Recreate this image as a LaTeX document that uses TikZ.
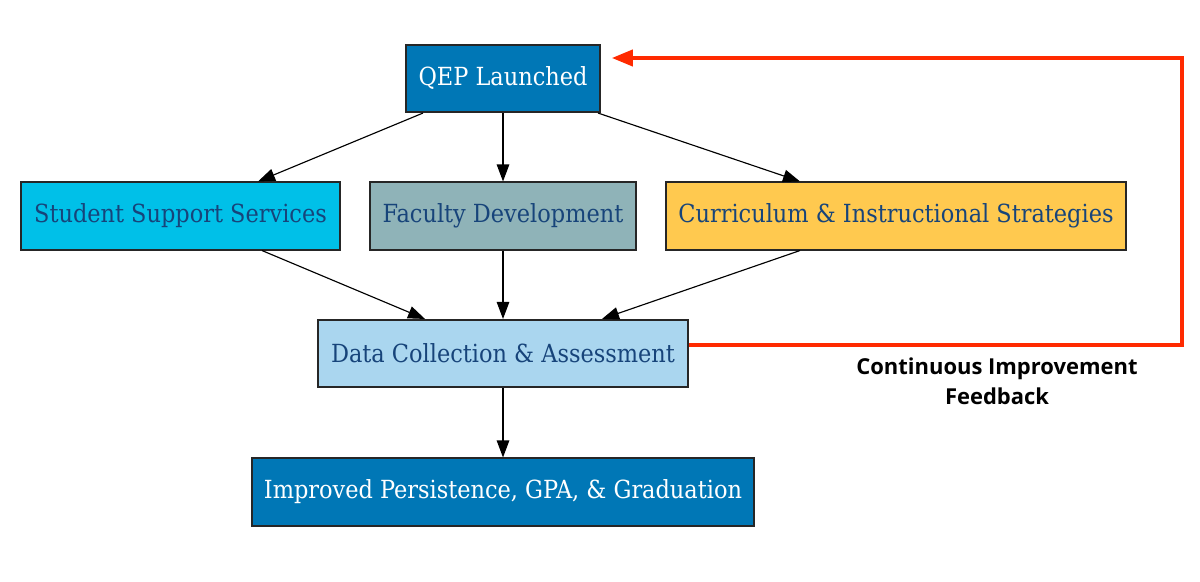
\documentclass[tikz,border=0pt]{standalone}
\usepackage{fontspec}
\setmainfont{DejaVu Serif Condensed}
\newfontfamily\lblfont{Open Sans}
\usetikzlibrary{arrows.meta,positioning}
\definecolor{qblue}{HTML}{0077B6}
\definecolor{scyan}{HTML}{00C0E8}
\definecolor{fteal}{HTML}{8FB3B8}
\definecolor{cgold}{HTML}{FFC94F}
\definecolor{dlight}{HTML}{AAD6EF}
\definecolor{tnavy}{HTML}{17447A}
\definecolor{fbred}{HTML}{FF2A00}
\tikzset{
  bx/.style={rectangle,draw=black!85,line width=0.9pt,minimum height=1.35cm,inner sep=0pt,font=\fontsize{14.2}{17}\selectfont},
  dk/.style={bx,fill=qblue,text=white},
  lt/.style={bx,text=tnavy},
  ed/.style={-{Triangle[length=0.34cm,width=0.25cm]},line width=0.65pt},
  fb/.style={-{Triangle[length=0.42cm,width=0.32cm]},draw=fbred,line width=2.2pt},
}

\begin{document}
\begin{tikzpicture}
  \useasboundingbox (0,0) rectangle (24,-11.64);
  \node[dk,minimum width=3.88cm] (qep) at (10.06,-1.57) {QEP Launched};
  \node[lt,fill=scyan,minimum width=6.38cm] (sss) at (3.61,-4.32) {Student Support Services};
  \node[lt,fill=fteal,minimum width=5.32cm] (fac) at (10.06,-4.32) {Faculty Development};
  \node[lt,fill=cgold,minimum width=9.2cm] (cur) at (17.92,-4.32) {Curriculum \& Instructional Strategies};
  \node[lt,fill=dlight,minimum width=7.4cm] (dca) at (10.06,-7.07) {Data Collection \& Assessment};
  \node[dk,minimum width=10.04cm] (imp) at (10.06,-9.84) {Improved Persistence, GPA, \& Graduation};
  \coordinate (corner) at (23.64,-1.16);

  \draw[ed] ([xshift=-1.6cm]qep.south) -- ([xshift=1.55cm]sss.north);
  \draw[ed] (qep) -- (fac);
  \draw[ed] ([xshift=1.9cm]qep.south) -- ([xshift=-1.92cm]cur.north);
  \draw[ed] ([xshift=1.63cm]sss.south) -- ([xshift=-1.56cm]dca.north);
  \draw[ed] (fac) -- (dca);
  \draw[ed] ([xshift=-1.92cm]cur.south) -- ([xshift=1.98cm]dca.north);
  \draw[ed] (dca) -- (imp);

  % feedback loop
  \draw[fb] ([yshift=0.17cm]dca.east) -| (corner) -- ([xshift=0.22cm,yshift=0.41cm]qep.east);
  \node[font=\lblfont\bfseries\fontsize{12.5}{17}\selectfont,align=center] (lbl) at (19.94,-7.62) {Continuous Improvement\\Feedback};
\end{tikzpicture}
\end{document}
